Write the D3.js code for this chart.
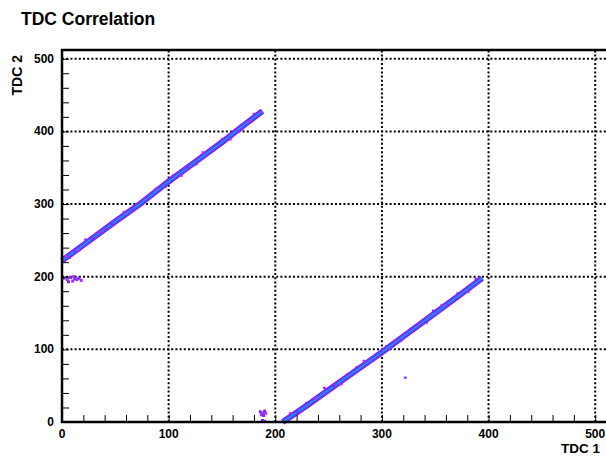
<!DOCTYPE html>
<html>
<head>
<meta charset="utf-8">
<script src="https://cdn.jsdelivr.net/npm/d3@7"></script>
<style>
  body { margin: 0; background: #fff; }
  text { font-family: "Liberation Sans", Arial, sans-serif; font-weight: bold; }
</style>
</head>
<body>
<div id="chart"></div>
<script>
// values (TDC 1, TDC 2)
var majorTicks = [0, 100, 200, 300, 400, 500];
var band1 = [[0, 222], [25, 249], [50, 276], [73, 300], [100, 331], [125, 358], [150, 385], [170, 408], [188, 428]];
var band2 = [[207, 0], [230, 23], [250, 44], [275, 70], [300, 96], [325, 123], [350, 150], [375, 177], [394, 198]];
var scatter = [[4, 228], [7, 226], [12, 236], [16, 236], [22, 251], [29, 252], [36, 261], [41, 265], [47, 272],
  [58, 289], [66, 291], [79, 309], [88, 321], [97, 324], [104, 339], [112, 339], [118, 350], [126, 355],
  [132, 371], [142, 374], [150, 389], [158, 389], [163, 402], [169, 403], [176, 414], [180, 424], [185, 427],
  [214, 12], [221, 13], [229, 26], [238, 33], [246, 47], [255, 50], [262, 52], [268, 66], [276, 75],
  [283, 84], [292, 85], [304, 104], [312, 112], [318, 112], [327, 128], [334, 135], [342, 137], [348, 153],
  [356, 161], [362, 161], [371, 177], [381, 179], [388, 197], [322, 61]];
var blob1 = [[2, 198], [5, 196], [8, 199], [10, 194], [12, 197], [14, 196], [16, 198], [18, 195], [6, 193], [11, 200]];
var blob2 = [[186, 14], [188, 12], [190, 15], [187, 10], [189, 9], [191, 12], [188, 2], [190, 1]];

var W = 606, H = 456;
var svg = d3.select('#chart').append('svg')
  .attr('width', W).attr('height', H);

var x = d3.scaleLinear().domain([0, 512]).range([62, 608]);
var y = d3.scaleLinear().domain([0, 512]).range([422, 50]);

// dotted grid
svg.append('g').selectAll('line.vg')
  .data(majorTicks.slice(1))
  .join('line')
  .attr('x1', d => x(d)).attr('x2', d => x(d))
  .attr('y1', y(0)).attr('y2', y(512))
  .attr('stroke', '#000').attr('stroke-width', 2).attr('stroke-dasharray', '2,2.2');
svg.append('g').selectAll('line.hg')
  .data(majorTicks.slice(1))
  .join('line')
  .attr('y1', d => y(d)).attr('y2', d => y(d))
  .attr('x1', x(0)).attr('x2', x(512))
  .attr('stroke', '#000').attr('stroke-width', 2).attr('stroke-dasharray', '2,2.2');

// bands
var line = d3.line().x(d => x(d[0])).y(d => y(d[1]));
[band1, band2].forEach(function(b) {
  svg.append('path').attr('d', line(b)).attr('fill', 'none')
    .attr('stroke', '#8a1cff').attr('stroke-width', 6);
  svg.append('path').attr('d', line(b)).attr('fill', 'none')
    .attr('stroke', '#3a55ff').attr('stroke-width', 3.5);
  svg.append('path').attr('d', line(b)).attr('fill', 'none')
    .attr('stroke', '#20b0ff').attr('stroke-width', 1);
});

svg.append('g').selectAll('rect')
  .data(scatter)
  .join('rect')
  .attr('x', d => x(d[0]) - 1.2).attr('y', d => y(d[1]) - 1.2)
  .attr('width', 2.4).attr('height', 2.4)
  .attr('fill', (d, i) => i % 3 == 0 ? '#d020ff' : '#9020ff');

svg.append('g').selectAll('rect')
  .data(blob1.concat(blob2))
  .join('rect')
  .attr('x', d => x(d[0]) - 1.5).attr('y', d => y(d[1]) - 1.5)
  .attr('width', 3).attr('height', 3)
  .attr('fill', (d, i) => i % 2 == 0 ? '#8020ff' : '#a030ff');

// axes
var xAxis = d3.axisBottom(x).tickValues(d3.range(0, 512, 20)).tickSize(-7).tickFormat('');
var yAxis = d3.axisLeft(y).tickValues(d3.range(0, 512, 20)).tickSize(-7).tickFormat('');
svg.append('g').attr('transform', 'translate(0,' + y(0) + ')').call(xAxis)
  .call(g => g.select('.domain').remove())
  .selectAll('line').attr('stroke', '#000').attr('stroke-width', 1);
svg.append('g').attr('transform', 'translate(' + x(0) + ',0)').call(yAxis)
  .call(g => g.select('.domain').remove())
  .selectAll('line').attr('stroke', '#000').attr('stroke-width', 1);

// frame
svg.append('rect')
  .attr('x', x(0)).attr('y', y(512))
  .attr('width', x(512) - x(0)).attr('height', y(0) - y(512))
  .attr('fill', 'none').attr('stroke', '#000').attr('stroke-width', 2.5);

// tick labels
svg.append('g').selectAll('text')
  .data(majorTicks)
  .join('text')
  .attr('x', d => x(d)).attr('y', 438)
  .attr('text-anchor', 'middle').style('font-size', '12px')
  .text(d => d);
svg.append('g').selectAll('text')
  .data(majorTicks)
  .join('text')
  .attr('x', 54).attr('y', d => y(d) + 4)
  .attr('text-anchor', 'end').style('font-size', '12px')
  .text(d => d);

// titles
svg.append('text').attr('x', 21).attr('y', 25).style('font-size', '17.5px').text('TDC Correlation');
svg.append('text').attr('transform', 'translate(22,55) rotate(-90)')
  .attr('text-anchor', 'end').style('font-size', '14px').text('TDC 2');
svg.append('text').attr('x', 561).attr('y', 453).style('font-size', '13.5px').text('TDC 1');
</script>
</body>
</html>
